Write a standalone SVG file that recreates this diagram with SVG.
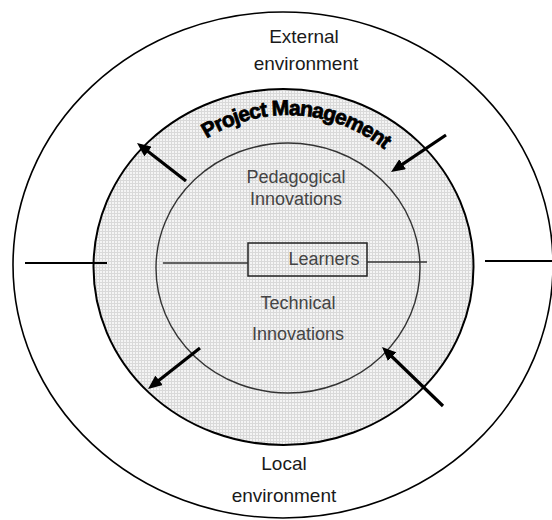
<svg xmlns="http://www.w3.org/2000/svg" width="552" height="520" viewBox="0 0 552 520">
  <style>
    .ring { fill: none; stroke: #000; }
    .lbl { font-family: "Liberation Sans", Arial, sans-serif; font-size: 19px; fill: #1a1a1a; text-anchor: middle; }
    .inner-lbl { font-family: "Liberation Sans", Arial, sans-serif; font-size: 18px; fill: #444; text-anchor: middle; }
    .pm { font-family: "Liberation Sans", Arial, sans-serif; font-size: 21px; font-weight: bold; fill: #000; stroke: #000; stroke-width: 0.8; }
    .axis { stroke: #000; stroke-width: 2; fill: none; }
    .axis-in { stroke: #333; stroke-width: 1.5; fill: none; }
    .flow { stroke: #000; stroke-width: 3.2; fill: none; marker-end: url(#head); }
  </style>
  <defs>
    <!-- fine grey screen used for the project-management band -->
    <pattern id="screen" width="3" height="3" patternUnits="userSpaceOnUse">
      <rect width="3" height="3" fill="#f4f4f4"/>
      <rect width="3" height="1" fill="#d9d9d9"/>
      <rect width="1" height="3" fill="#d9d9d9"/>
    </pattern>
    <marker id="head" viewBox="0 0 14 12" markerWidth="14" markerHeight="12" refX="4" refY="6" orient="auto" markerUnits="userSpaceOnUse">
      <path d="M0,0 L14,6 L0,12 z" fill="#000"/>
    </marker>
    <path id="pmArc" d="M 206.7 138.5 A 152 152 0 0 1 386 151"/>
  </defs>

  <!-- outer ring: external / local environment -->
  <g id="environment">
    <ellipse class="ring" cx="283" cy="265" rx="270" ry="253" stroke-width="1.6"/>
    <text class="lbl" x="304" y="43">External</text>
    <text class="lbl" x="306" y="70">environment</text>
    <text class="lbl" x="284" y="470">Local</text>
    <text class="lbl" x="284" y="502">environment</text>
  </g>

  <!-- shaded band: project management -->
  <g id="project-management">
    <ellipse cx="283.5" cy="267" rx="190" ry="178" fill="url(#screen)" stroke="#000" stroke-width="2"/>
    <text class="pm"><textPath href="#pmArc" textLength="190" lengthAdjust="spacing">Project Management</textPath></text>
  </g>

  <!-- inner circle: innovations -->
  <g id="innovations">
    <ellipse cx="288" cy="268" rx="132" ry="125" fill="none" stroke="#333" stroke-width="1.4"/>
    <text class="inner-lbl" x="296" y="183">Pedagogical</text>
    <text class="inner-lbl" x="296" y="205">Innovations</text>
    <text class="inner-lbl" x="298" y="309">Technical</text>
    <text class="inner-lbl" x="298" y="340">Innovations</text>
  </g>

  <!-- centre: learners -->
  <g id="learners">
    <rect x="248" y="243" width="119" height="33" fill="none" stroke="#222" stroke-width="1.5"/>
    <text class="inner-lbl" x="324" y="265" font-size="19">Learners</text>
  </g>

  <g id="connectors">
    <line class="axis" x1="25" y1="263" x2="107" y2="263"/>
    <line class="axis" x1="485" y1="261" x2="552" y2="261"/>
    <line class="axis-in" x1="163" y1="263" x2="248" y2="263"/>
    <line class="axis-in" x1="367" y1="262" x2="427" y2="262"/>
    <line class="flow" x1="186" y1="181" x2="144.9" y2="149.1"/>
    <line class="flow" x1="446" y1="135" x2="399.3" y2="166.4"/>
    <line class="flow" x1="200" y1="348" x2="155.9" y2="382.8"/>
    <line class="flow" x1="443" y1="406" x2="389.2" y2="354"/>
  </g>
</svg>
